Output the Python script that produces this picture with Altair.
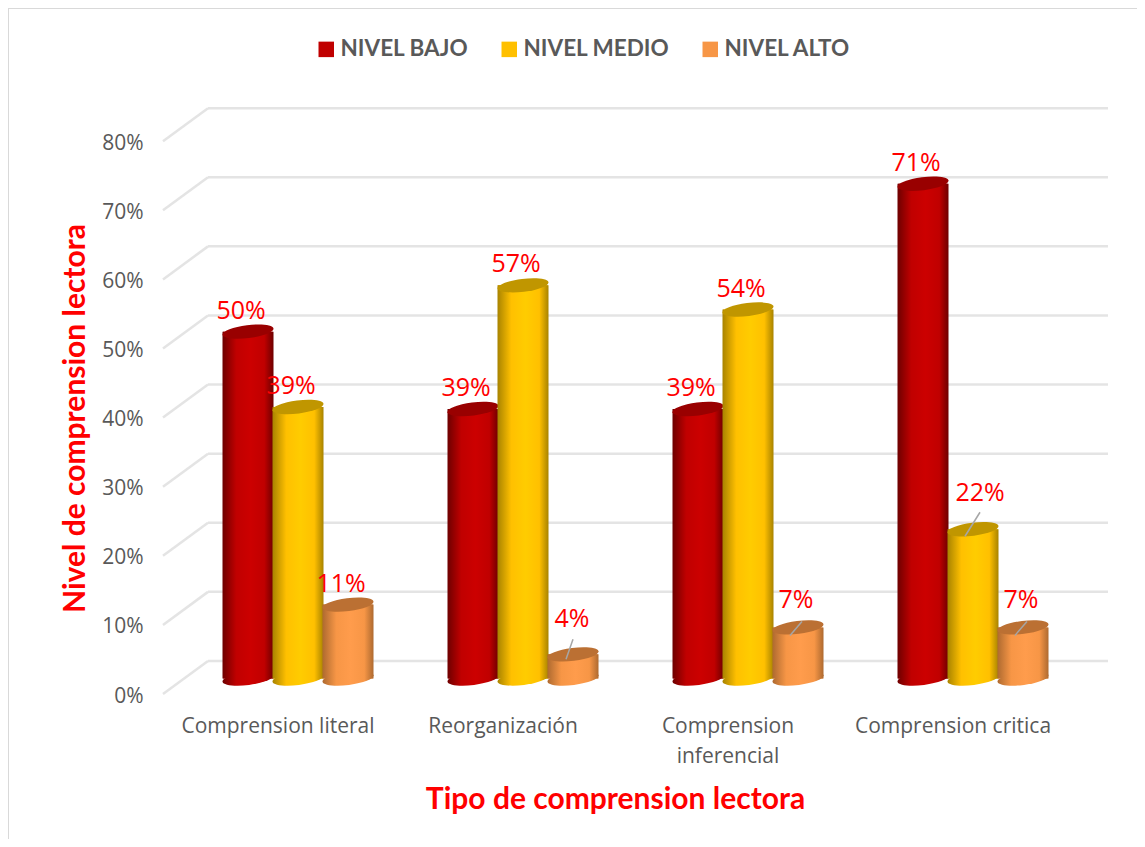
import altair as alt
import pandas as pd

categories = ["Comprension literal", "Reorganización", "Comprension inferencial", "Comprension critica"]
series = ["NIVEL BAJO", "NIVEL MEDIO", "NIVEL ALTO"]
solid = ["#c00000", "#ffc000", "#f79646"]
cap = ["#990000", "#c09600", "#bb7033"]
edge = ["#6e0000", "#a88300", "#ae6a30"]
mid = ["#cc0000", "#ffcc00", "#ff9c4c"]
bajo = [50.2, 39.0, 39.0, 71.6]
medio = [39.3, 56.9, 53.4, 21.6]
alto = [10.7, 3.5, 7.4, 7.4]
bajo_lab = ["50%", "39%", "39%", "71%"]
medio_lab = ["39%", "57%", "54%", "22%"]
alto_lab = ["11%", "4%", "7%", "7%"]
ticks = [0, 10, 20, 30, 40, 50, 60, 70, 80]

FLOOR = 2.24   # cylinders stand this far behind the axis front edge
BACK = 4.78    # depth of the back wall, in axis units

rows = []
for s, vals, labs in zip(series, [bajo, medio, alto], [bajo_lab, medio_lab, alto_lab]):
    for c, v, l in zip(categories, vals, labs):
        rows.append({"cat": c, "serie": s, "base": FLOOR, "top": v + FLOOR, "lab": l})
df = pd.DataFrame(rows)
grid = pd.DataFrame({"v": ticks, "back": [t + BACK for t in ticks]})

W, H = 945, 634
YMAX = H / 6.91
yscale = alt.Scale(domain=[0, YMAX], nice=False, zero=False)
xscale = alt.Scale(domain=categories, range=[60, 885], paddingInner=1 / 3, paddingOuter=0)
oscale = alt.Scale(domain=series, paddingInner=0, paddingOuter=0)

xaxis = alt.Axis(
    title="Tipo de comprension lectora", titleFont="Lato", titleFontSize=30, titleColor="#ff0000",
    titleFontWeight="bold", titleX=452, titleY=90, titleAnchor="middle", labelAngle=0,
    labelFont="Open Sans", labelFontSize=21, labelColor="#595959", labelPadding=21, labelOffset=-20,
    labelLimit=400, labelLineHeight=30,
    labelExpr="datum.value == 'Comprension inferencial' ? ['Comprension', 'inferencial'] : datum.label",
    ticks=False, domain=False, grid=False,
)
yaxis = alt.Axis(
    title="Nivel de comprension lectora", titleFont="Lato", titleFontSize=30, titleColor="#ff0000",
    titleFontWeight="bold", titleX=-73, titleY=358, titleAnchor="middle", values=ticks,
    labelExpr="datum.value + '%'", labelFont="Open Sans", labelFontSize=21, labelColor="#595959",
    labelPadding=20, labelOffset=2, ticks=False, domain=False, grid=False,
)


def X():
    return alt.X("cat:N", scale=xscale, sort=categories, axis=xaxis)


def Y(field):
    return alt.Y(field + ":Q", scale=yscale, axis=yaxis)


xo = alt.XOffset("serie:N", scale=oscale, sort=series)

GRIDC = "#e4e4e4"
diag = alt.Chart(grid).mark_rule(color=GRIDC, strokeWidth=2.5).encode(
    x=alt.value(0), x2=alt.value(45), y=Y("v"), y2="back:Q")
wall = alt.Chart(grid).mark_rule(color=GRIDC, strokeWidth=2.5).encode(
    x=alt.value(45), x2=alt.value(945), y=Y("back"))
frame_t = alt.Chart(grid.head(1)).mark_rule(color="#d9d9d9", strokeWidth=2).encode(
    x=alt.value(-155), x2=alt.value(974), y=alt.value(-52))
frame_l = alt.Chart(grid.head(1)).mark_rule(color="#d9d9d9", strokeWidth=2).encode(
    x=alt.value(-155), y=alt.value(-52), y2=alt.value(779))

# Solid bars carry the legend; the shaded cylinders sit on top of them.
bars = alt.Chart(df).mark_bar(size=50).encode(
    x=X(), xOffset=xo, y=Y("top"), y2="base:Q",
    color=alt.Color(
        "serie:N", scale=alt.Scale(domain=series, range=solid), sort=series,
        legend=alt.Legend(
            title=None, orient="none", direction="horizontal", columns=3, legendX=152, legendY=-22,
            symbolType="square", symbolSize=240, symbolStrokeWidth=0, labelFont="Lato", labelFontSize=22.5,
            labelFontWeight="bold", labelColor="#595959", labelOffset=3, columnPadding=29, labelLimit=300,
        ),
    ),
)

TILT = "M-25.5,3.2 A25.7,6.5 -7 1,1 25.5,-3.2 A25.7,6.5 -7 1,1 -25.5,3.2 Z"
layers = [frame_t, frame_l, diag, wall, bars]
for i, s in enumerate(series):
    grad = alt.Gradient(
        gradient="linear", x1=0, x2=1, y1=0, y2=0,
        stops=[
            alt.GradientStop(offset=0, color=edge[i]),
            alt.GradientStop(offset=0.27, color=solid[i]),
            alt.GradientStop(offset=0.55, color=mid[i]),
            alt.GradientStop(offset=0.82, color=solid[i]),
            alt.GradientStop(offset=1, color=edge[i]),
        ],
    )
    d = df[df.serie == s]
    layers.append(alt.Chart(d).mark_point(shape=TILT, size=4, filled=True, fill=grad, opacity=1, strokeWidth=0).encode(
        x=X(), xOffset=xo, y=Y("base")))
    layers.append(alt.Chart(d).mark_bar(size=51, fill=grad).encode(
        x=X(), xOffset=xo, y=Y("top"), y2="base:Q"))
    layers.append(alt.Chart(d).mark_point(shape=TILT, size=4, filled=True, fill=cap[i], opacity=1, strokeWidth=0).encode(
        x=X(), xOffset=xo, y=Y("top")))


def pick(s, lab):
    return df[(df.serie == s) & (df.lab == lab)]


def labels(d, dx, dy):
    return alt.Chart(d).mark_text(
        font="Open Sans", fontSize=25, color="#ff0000", dx=dx, dy=dy, baseline="middle", align="center"
    ).encode(x=X(), xOffset=xo, y=Y("top"), text="lab:N")


def leader(d, shape):
    return alt.Chart(d).mark_point(shape=shape, size=4, stroke="#a6a6a6", strokeWidth=1.5, fill=None, opacity=1).encode(
        x=X(), xOffset=xo, y=Y("top"))


led_22 = pick("NIVEL MEDIO", "22%")
led_4 = pick("NIVEL ALTO", "4%")
led_7 = pick("NIVEL ALTO", "7%")
plain = df[~df.lab.isin(["22%", "4%"]) & ~((df.serie == "NIVEL ALTO") & (df.lab == "7%"))]
layers += [
    labels(plain, -7, -21),
    labels(led_22, 7, -36),
    labels(led_4, -1, -35),
    labels(led_7, -2, -27),
    leader(led_22, "M-8,7 L7,-17"),
    leader(led_4, "M-7,5 L0,-15"),
    leader(led_7, "M-8,8 L4,-6"),
]

chart = alt.layer(*layers).resolve_scale(y="shared", x="shared").properties(
    width=W, height=H,
    background="white",
    autosize=alt.AutoSizeParams(type="none"),
    padding={"left": 155, "top": 52, "right": 29, "bottom": 145},
).configure_view(stroke=None)

chart.save("out.html", embed_options={"renderer": "svg", "actions": False})
